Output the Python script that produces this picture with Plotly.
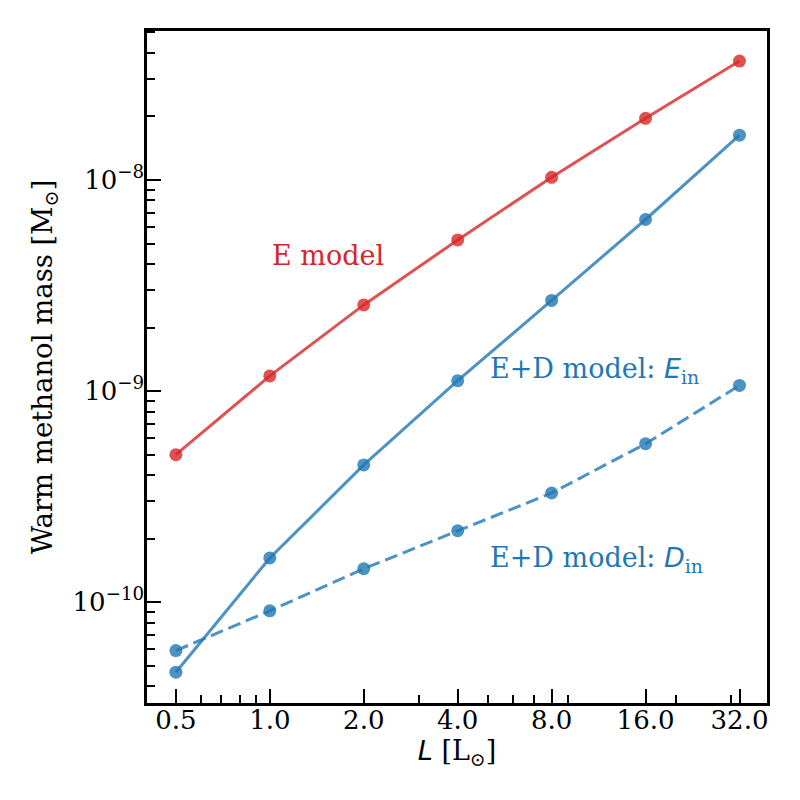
import numpy as np
import plotly.graph_objects as go

# luminosity values [L_sun]
lum = [0.5, 1.0, 2.0, 4.0, 8.0, 16.0, 32.0]

# warm methanol mass [M_sun]
mass_e = [5.0e-10, 1.18e-9, 2.56e-9, 5.2e-9, 1.03e-8, 1.96e-8, 3.66e-8]
mass_ed_ein = [4.66e-11, 1.62e-10, 4.47e-10, 1.12e-9, 2.69e-9, 6.5e-9, 1.63e-8]
mass_ed_din = [5.9e-11, 9.1e-11, 1.44e-10, 2.18e-10, 3.29e-10, 5.63e-10, 1.064e-9]

xtick_labels = ['0.5', '1.0', '2.0', '4.0', '8.0', '16.0', '32.0']
ytick_vals = [1e-10, 1e-9, 1e-8]
ytick_labels = ['10<sup>\u221210</sup>', '10<sup>\u22129</sup>', '10<sup>\u22128</sup>']

# minor ticks like matplotlib's base-10 log locator
x_minor = [0.6, 0.7, 0.8, 0.9, 3, 5, 6, 7, 9, 20, 30]
y_minor = [m * 10.0**e for e in range(-11, -7) for m in range(2, 10)]

red = 'rgba(214,39,40,0.8)'
blue = 'rgba(31,119,180,0.8)'
serif = 'DejaVu Serif'

fig = go.Figure()
fig.add_trace(go.Scatter(x=lum, y=mass_e, mode='lines+markers',
                         line=dict(color=red, width=3),
                         marker=dict(color=red, size=13)))
fig.add_trace(go.Scatter(x=lum, y=mass_ed_ein, mode='lines+markers',
                         line=dict(color=blue, width=3),
                         marker=dict(color=blue, size=13)))
fig.add_trace(go.Scatter(x=lum, y=mass_ed_din, mode='lines+markers',
                         line=dict(color=blue, width=3, dash='13px,6px'),
                         marker=dict(color=blue, size=13)))

ann_font = dict(family=serif, size=27)
fig.add_annotation(x=np.log10(1.0), y=np.log10(4.4e-9), text='E model',
                   showarrow=False, xanchor='left', yanchor='middle',
                   font=dict(color='#d62728', **ann_font))
fig.add_annotation(x=np.log10(5.0), y=np.log10(1.25e-9),
                   text="E+D model: <span style='font-family:DejaVu Sans'><i>E</i></span><sub>in</sub>",
                   showarrow=False, xanchor='left', yanchor='middle',
                   font=dict(color='#1f77b4', **ann_font))
fig.add_annotation(x=np.log10(5.0), y=np.log10(1.59e-10),
                   text="E+D model: <span style='font-family:DejaVu Sans'><i>D</i></span><sub>in</sub>",
                   showarrow=False, xanchor='left', yanchor='middle',
                   font=dict(color='#1f77b4', **ann_font))

axis_common = dict(type='log', showgrid=False, zeroline=False,
                   showline=True, linecolor='black', linewidth=2.5, mirror=True,
                   ticks='inside', ticklen=14, tickwidth=2, tickcolor='black',
                   tickfont=dict(family=serif, size=26, color='black'))

fig.update_xaxes(**axis_common, range=[np.log10(0.404), np.log10(39.2)],
                 tickvals=lum, ticktext=xtick_labels, ticklabelstandoff=-8,
                 minor=dict(tickvals=x_minor, ticks='inside', ticklen=8,
                            tickwidth=2, tickcolor='black'),
                 title=dict(text="<span style='font-family:DejaVu Sans'><i>L</i></span> [L<sub>\u2299</sub>]",
                            font=dict(family=serif, size=27, color='black'), standoff=2))
fig.update_yaxes(**axis_common, range=[np.log10(3.33e-11), np.log10(5.08e-8)],
                 tickvals=ytick_vals, ticktext=ytick_labels, ticklabelstandoff=-5,
                 minor=dict(tickvals=y_minor, ticks='inside', ticklen=8,
                            tickwidth=2, tickcolor='black'),
                 title=dict(text='Warm methanol mass [M<sub>\u2299</sub>]',
                            font=dict(family=serif, size=27.5, color='black'), standoff=12))

# the page puts the figure 8px in from the top-left corner
fig.update_layout(width=800, height=800, showlegend=False,
                  plot_bgcolor='white', paper_bgcolor='white',
                  margin=dict(l=139, r=41, t=23, b=105, autoexpand=False))

fig.write_html('out.html')
